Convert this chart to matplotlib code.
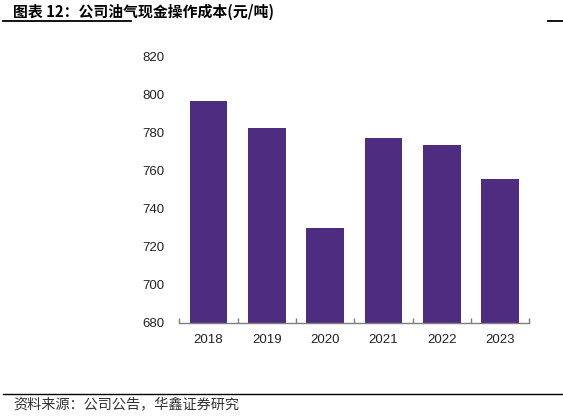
import numpy as np
import matplotlib
matplotlib.use("Agg")
import matplotlib.pyplot as plt
from matplotlib.lines import Line2D

years = ["2018", "2019", "2020", "2021", "2022", "2023"]
cost = [796.7, 782.5, 729.7, 777.4, 773.4, 755.6]
y_ticks = [680, 700, 720, 740, 760, 780, 800, 820]

title = "图表 12：公司油气现金操作成本(元/吨)"
source = "资料来源：公司公告，华鑫证券研究"

plt.rcParams["font.family"] = ["Liberation Sans", "Noto Sans CJK SC", "DejaVu Sans"]

fig = plt.figure(figsize=(5.63, 4.17), dpi=100)
ax = fig.add_axes([179.3 / 563, 1 - 322.5 / 417, 350 / 563, 265.5 / 417])

x = np.arange(len(years))
ax.bar(x, cost, width=0.65, color="#4e2d80", bottom=0)

ax.set_xlim(-0.5, len(years) - 0.5)
ax.set_ylim(680, 820)
ax.set_yticks(y_ticks)
ax.set_xticks(x)
ax.set_xticklabels(years)
ax.set_xticks(np.arange(-0.5, len(years), 1.0), minor=True)

for s in ["left", "right", "top"]:
    ax.spines[s].set_visible(False)
ax.spines["bottom"].set_color("#7f7f7f")
ax.spines["bottom"].set_linewidth(1.0)

ax.tick_params(axis="y", length=0, pad=11, labelsize=9.5, labelcolor="#222222")
ax.tick_params(axis="x", which="major", length=0, pad=8, labelsize=9.5, labelcolor="#222222")
ax.tick_params(axis="x", which="minor", length=3.5, direction="in", color="#7f7f7f", width=1.0)

fig.text(13 / 563, 1 - 11.5 / 417, title, fontsize=10.7, fontweight="bold",
         family=["Noto Sans CJK SC", "DejaVu Sans"], va="center", ha="left")
fig.add_artist(Line2D([2.5 / 563, 130.5 / 563], [1 - 20.7 / 417] * 2,
                      color="black", linewidth=1.3, transform=fig.transFigure))
fig.add_artist(Line2D([548 / 563, 1.0], [1 - 20.7 / 417] * 2,
                      color="black", linewidth=1.3, transform=fig.transFigure))

fig.add_artist(Line2D([3 / 563, 1.0], [1 - 394 / 417] * 2,
                      color="black", linewidth=1.0, transform=fig.transFigure))
fig.text(13 / 563, 1 - 405 / 417, source, fontsize=10.2, color="#333333",
         family=["Noto Sans CJK SC", "DejaVu Sans"], va="center", ha="left")

fig.savefig("out.png", dpi=100)
